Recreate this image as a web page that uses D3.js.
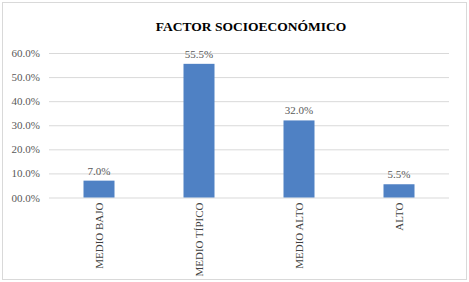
<!DOCTYPE html>
<html>
<head>
<meta charset="utf-8">
<script src="https://cdn.jsdelivr.net/npm/d3@7"></script>
<style>
  body { margin: 0; background: #fff; }
  svg { display: block; }
  .tick text { font-family: "Liberation Serif", serif; }
</style>
</head>
<body>
<div id="chart"></div>
<script>
// chart data
const categories = ["MEDIO BAJO", "MEDIO TÍPICO", "MEDIO ALTO", "ALTO"];
const values = [7.0, 55.5, 32.0, 5.5];
const yTicks = [0, 10, 20, 30, 40, 50, 60];

const width = 469,
  height = 282,
  margin = ({top: 53, right: 20, bottom: 84.5, left: 49});

const svg = d3.select("#chart")
  .append("svg")
  .attr("width", width)
  .attr("height", height)
  .attr("viewBox", [0, 0, width, height]);

// outer frame
svg.append("rect")
  .attr("x", 2.5).attr("y", 2.5)
  .attr("width", width - 5).attr("height", height - 5)
  .attr("fill", "#fff")
  .attr("stroke", "#d9d9d9");

let x = d3.scaleBand()
  .domain(categories)
  .range([margin.left, width - margin.right])
  .paddingInner(0.69)
  .paddingOuter(0.345);

let y = d3.scaleLinear()
  .domain([0, 60])
  .range([height - margin.bottom, margin.top]);

// gridlines + y labels
const yAxis = svg.append("g")
  .attr("transform", `translate(${margin.left},0)`)
  .call(d3.axisLeft(y)
    .tickValues(yTicks)
    .tickSize(-(width - margin.left - margin.right))
    .tickPadding(9)
    .tickFormat(d => (d < 10 ? "0" : "") + d.toFixed(1) + "%"));
yAxis.select(".domain").remove();
yAxis.selectAll(".tick line").attr("stroke", "#d9d9d9");
yAxis.selectAll(".tick text")
  .attr("fill", "#595959")
  .style("font-size", "11px");

// bars
svg.append("g")
  .selectAll("rect")
  .data(values)
  .join("rect")
  .attr("x", (d, i) => x(categories[i]))
  .attr("y", d => y(d))
  .attr("width", x.bandwidth())
  .attr("height", d => y(0) - y(d))
  .attr("fill", "#4f81c4");

// value labels
svg.append("g")
  .selectAll("text")
  .data(values)
  .join("text")
  .attr("x", (d, i) => x(categories[i]) + x.bandwidth() / 2)
  .attr("y", d => y(d) - 6)
  .attr("text-anchor", "middle")
  .attr("fill", "#595959")
  .style("font-family", "Liberation Serif, serif")
  .style("font-size", "11px")
  .text(d => d.toFixed(1) + "%");

// category labels (rotated)
svg.append("g")
  .selectAll("text")
  .data(categories)
  .join("text")
  .attr("transform", d => `translate(${x(d) + x.bandwidth() / 2 + 4},${y(0) + 5}) rotate(-90)`)
  .attr("text-anchor", "end")
  .attr("fill", "#404040")
  .style("font-family", "Liberation Serif, serif")
  .style("font-size", "11px")
  .text(d => d);

// title
svg.append("text")
  .attr("x", 251)
  .attr("y", 31)
  .attr("text-anchor", "middle")
  .attr("fill", "#000")
  .style("font-family", "Liberation Serif, serif")
  .style("font-weight", "bold")
  .style("font-size", "13.5px")
  .text("FACTOR SOCIOECONÓMICO");
</script>
</body>
</html>
